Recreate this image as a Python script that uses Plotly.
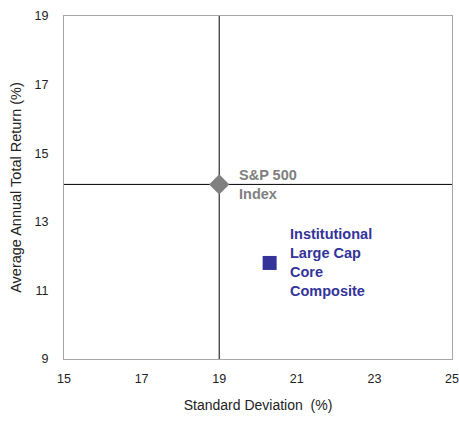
import plotly.graph_objects as go

# Data
names = ["S&P 500<br>Index", "Institutional<br>Large Cap<br>Core<br>Composite"]
std_dev = [19.0, 20.3]
returns = [14.09, 11.8]
x_ticks = [15, 17, 19, 21, 23, 25]
y_ticks = [9, 11, 13, 15, 17, 19]
cross_x = 19.0
cross_y = 14.09

colors = ["#808080", "#333399"]
symbols = ["diamond", "square"]
sizes = [15.5, 14]

fig = go.Figure()
for i in range(len(names)):
    fig.add_trace(go.Scatter(
        x=[std_dev[i]], y=[returns[i]], mode="markers",
        marker=dict(symbol=symbols[i], size=sizes[i], color=colors[i],
                    line=dict(width=0)),
        showlegend=False, cliponaxis=False))

fig.add_vline(x=cross_x, line=dict(color="#000000", width=1), layer="below")
fig.add_hline(y=cross_y, line=dict(color="#000000", width=1), layer="below")

xshifts = [18, 18]
for i in range(len(names)):
    fig.add_annotation(
        x=std_dev[i], y=returns[i], text="<b>" + names[i] + "</b>",
        showarrow=False, xanchor="left", yanchor="middle", align="left",
        xshift=xshifts[i], yshift=0,
        font=dict(family="Liberation Sans, Arial, sans-serif", size=14.5,
                  color=colors[i]))

axis_font = dict(family="Liberation Sans, Arial, sans-serif", size=12.5, color="#222222")
fig.update_xaxes(
    range=[15, 25], tickvals=x_ticks, ticktext=[str(v) for v in x_ticks],
    showgrid=False, zeroline=False, showline=True, mirror=True,
    linecolor="#a6a6a6", linewidth=1, ticks="", tickfont=axis_font,
    ticklabelstandoff=8, automargin=False,
    title=dict(text="Standard Deviation  (%)", standoff=15,
               font=dict(family="Liberation Sans, Arial, sans-serif", size=14, color="#222222")))
fig.update_yaxes(
    range=[9, 19], tickvals=y_ticks, ticktext=[str(v) for v in y_ticks],
    showgrid=False, zeroline=False, showline=True, mirror=True,
    linecolor="#a6a6a6", linewidth=1, ticks="", tickfont=axis_font,
    ticklabelstandoff=12, automargin=False,
    title=dict(text="Average Annual Total Return (%)", standoff=9,
               font=dict(family="Liberation Sans, Arial, sans-serif", size=14.5, color="#222222")))

fig.update_layout(
    width=459, height=421,
    margin=dict(l=64, r=7, t=16, b=62),
    paper_bgcolor="white", plot_bgcolor="white",
)

fig.write_html("out.html")
